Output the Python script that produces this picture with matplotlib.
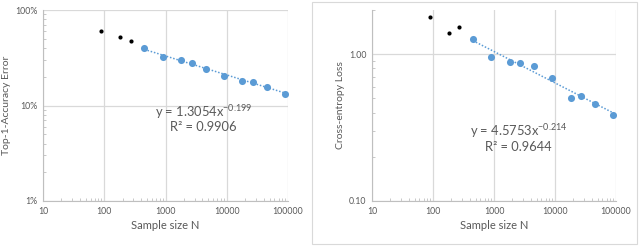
import numpy as np
import matplotlib
matplotlib.use("Agg")
import matplotlib.pyplot as plt
from matplotlib.patches import Rectangle
from matplotlib.ticker import FixedLocator, FixedFormatter, LogLocator, NullFormatter

# sample sizes
n_small = [90, 180, 270]
n_fit = [450, 900, 1800, 2700, 4500, 9000, 18000, 27000, 45000, 90000]

# top-1 accuracy error
err_small = [0.597, 0.52, 0.47]
err_fit = [0.40, 0.325, 0.298, 0.281, 0.241, 0.204, 0.180, 0.178, 0.158, 0.133]
err_coef = (1.3054, -0.199)
err_r2 = 0.9906

# cross-entropy loss
loss_small = [1.79, 1.39, 1.52]
loss_fit = [1.26, 0.954, 0.883, 0.877, 0.829, 0.687, 0.504, 0.518, 0.459, 0.388]
loss_coef = (4.5753, -0.214)
loss_r2 = 0.9644

x_ticks = [10, 100, 1000, 10000, 100000]
x_labels = ["10", "100", "1000", "10000", "100000"]

plt.rcParams['font.family'] = ['Lato', 'DejaVu Sans']
plt.rcParams['mathtext.fontset'] = 'custom'
plt.rcParams['mathtext.rm'] = 'Lato'
plt.rcParams['mathtext.it'] = 'Lato'
plt.rcParams['mathtext.default'] = 'regular'

BLUE = "#5b9bd5"
GRID = "#d9d9d9"
TXT = "#595959"

fig = plt.figure(figsize=(6.4, 2.46), dpi=100)

# border box around the right chart
fig.patches.append(Rectangle((312 / 640, 2 / 246), 325 / 640, 242 / 246,
                             transform=fig.transFigure, fill=False,
                             edgecolor="#d9d9d9", linewidth=0.8))


def panel(rect, ns, ys_small, ys_fit, coef, r2, ylim, yticks, ylabels,
          ylabel, eq_pos):
    ax = fig.add_axes(rect)
    ax.set_xscale("log")
    ax.set_yscale("log")
    ax.set_xlim(10, 100000)
    ax.set_ylim(*ylim)

    ax.grid(True, which="major", color=GRID, linewidth=0.9)
    ax.set_axisbelow(True)
    for s in ["top", "right"]:
        ax.spines[s].set_visible(False)
    for s in ["left", "bottom"]:
        ax.spines[s].set_color("#bfbfbf")
        ax.spines[s].set_linewidth(0.8)

    ax.xaxis.set_major_locator(FixedLocator(x_ticks))
    ax.xaxis.set_major_formatter(FixedFormatter(x_labels))
    ax.yaxis.set_major_locator(FixedLocator(yticks))
    ax.yaxis.set_major_formatter(FixedFormatter(ylabels))
    ax.xaxis.set_minor_locator(LogLocator(base=10, subs=np.arange(2, 10)))
    ax.yaxis.set_minor_locator(LogLocator(base=10, subs=np.arange(2, 10)))
    ax.xaxis.set_minor_formatter(NullFormatter())
    ax.yaxis.set_minor_formatter(NullFormatter())
    ax.tick_params(which="major", length=0, labelsize=6.3, labelcolor=TXT, pad=4)
    ax.tick_params(which="minor", direction="in", length=2, color="#bfbfbf", width=0.6)

    ax.scatter(ns, ys_small, s=9, color="black", zorder=3, linewidths=0)
    ax.scatter(n_fit, ys_fit, s=26, color=BLUE, zorder=3, linewidths=0)

    xf = np.geomspace(n_fit[0], n_fit[-1], 50)
    ax.plot(xf, coef[0] * xf ** coef[1], color=BLUE, linestyle=(0, (1, 1.2)),
            linewidth=1.1, zorder=2)

    ax.set_xlabel("Sample size N", fontsize=8, color=TXT, labelpad=3)
    ax.set_ylabel(ylabel, fontsize=7.5, color=TXT, labelpad=3)

    ex, ey = eq_pos
    ax.text(ex, ey, "y = %.4fx$^{%.3f}$" % (coef[0], coef[1]),
            transform=ax.transAxes, ha="center", va="center",
            fontsize=9.3, color=TXT)
    ax.text(ex, ey - 0.08, "R² = %.4f" % r2, transform=ax.transAxes,
            ha="center", va="center", fontsize=9.3, color=TXT)
    return ax


panel([43 / 640, 45 / 246, 245 / 640, 191 / 246], n_small, err_small, err_fit,
      err_coef, err_r2, (0.01, 1.0), [0.01, 0.1, 1.0], ["1%", "10%", "100%"],
      "Top-1-Accuracy Error", (0.655, 0.465))

panel([372 / 640, 45 / 246, 244 / 640, 191 / 246], n_small, loss_small, loss_fit,
      loss_coef, loss_r2, (0.1, 2.0), [0.1, 1.0], ["0.10", "1.00"],
      "Cross-entropy Loss", (0.60, 0.365))

fig.savefig("out.png", dpi=100)
